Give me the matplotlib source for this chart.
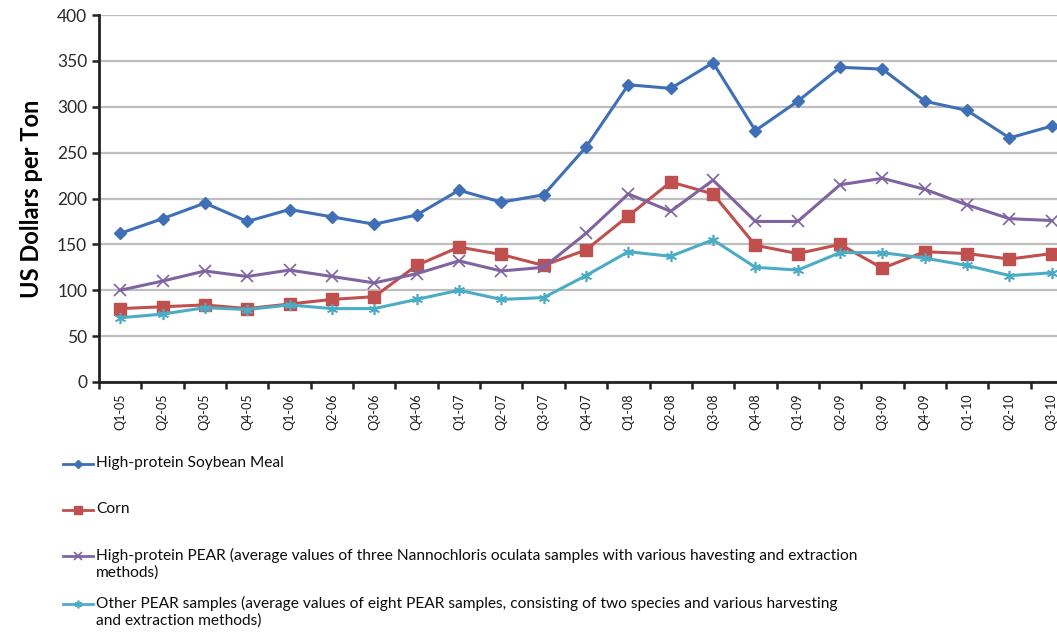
import numpy as np
import matplotlib
matplotlib.use('Agg')
import matplotlib.pyplot as plt
from matplotlib.lines import Line2D

# quarters Q1-05 .. Q3-10
quarters = ['Q1-05', 'Q2-05', 'Q3-05', 'Q4-05', 'Q1-06', 'Q2-06', 'Q3-06', 'Q4-06',
            'Q1-07', 'Q2-07', 'Q3-07', 'Q4-07', 'Q1-08', 'Q2-08', 'Q3-08', 'Q4-08',
            'Q1-09', 'Q2-09', 'Q3-09', 'Q4-09', 'Q1-10', 'Q2-10', 'Q3-10']

soybean = [162, 178, 195, 175, 188, 180, 172, 182, 209, 196, 204, 256,
           324, 320, 348, 274, 306, 343, 341, 306, 296, 266, 279]
corn = [80, 82, 84, 80, 85, 90, 93, 127, 147, 139, 127, 144,
        181, 218, 205, 149, 140, 150, 124, 142, 140, 134, 140]
hp_pear = [100, 110, 121, 115, 122, 115, 108, 118, 132, 121, 125, 162,
           205, 186, 220, 175, 175, 215, 222, 210, 193, 178, 176]
other_pear = [70, 74, 81, 79, 84, 80, 80, 90, 100, 90, 92, 116,
              142, 137, 155, 125, 122, 141, 141, 135, 127, 116, 119]

labels = [
    "High-protein Soybean Meal",
    "Corn",
    "High-protein PEAR (average values of three Nannochloris oculata samples with various havesting and extraction\nmethods)",
    "Other PEAR samples (average values of eight PEAR samples, consisting of two species and various harvesting\nand extraction methods)",
]

plt.rcParams['font.family'] = ['Lato', 'DejaVu Sans']

W, H = 1057, 634
fig = plt.figure(figsize=(W / 100, H / 100), dpi=100)
ax = fig.add_axes([99 / W, 1 - 382 / H, 974 / W, 367 / H])

x = np.arange(len(quarters))
series = [
    (soybean, '#3F6FB6', dict(marker='D', markersize=6.5)),
    (corn, '#C0504D', dict(marker='s', markersize=8.5)),
    (hp_pear, '#8064A2', dict(marker='x', markersize=8, markeredgewidth=1.2)),
    (other_pear, '#4BACC6', dict(marker=(6, 2, 0), markersize=8, markeredgewidth=1.2)),
]
for vals, color, mk in series:
    ax.plot(x, vals, color=color, linewidth=2.2, markerfacecolor=color,
            markeredgecolor=color, **mk)

ax.set_xlim(-0.5, len(quarters) - 0.5)
ax.set_ylim(0, 400)
ax.set_yticks(np.arange(0, 401, 50))
ax.yaxis.grid(True, color='#BEBEBE', linewidth=1.6)
ax.set_axisbelow(True)

ax.set_xticks(x)
ax.set_xticklabels(quarters, rotation=90, fontsize=9, color='#1a1a1a')
ax.set_xticks(np.arange(-0.5, len(quarters), 1), minor=True)
ax.tick_params(axis='x', which='major', length=0, pad=8)
ax.tick_params(axis='x', which='minor', length=5, width=1.8, direction='out', color='#222222')
ax.tick_params(axis='y', length=5, width=1.8, direction='out', labelsize=12.5,
               labelcolor='#2a2a2a', color='#222222')

for s in ['top', 'right']:
    ax.spines[s].set_visible(False)
for s in ['left', 'bottom']:
    ax.spines[s].set_linewidth(2)
    ax.spines[s].set_color('#222222')

ax.set_ylabel('US Dollars per Ton', fontsize=17, fontweight='bold', labelpad=10)

# legend below the plot, one entry per series, handle aligned with first text line
legend_y = [464, 510, 556, 604]
for (vals, color, mk), lab, yy in zip(series, labels, legend_y):
    yf = 1 - yy / H
    mk = dict(mk)
    mk['markersize'] = mk['markersize'] * 0.7
    fig.add_artist(Line2D([63 / W, 78 / W, 93 / W], [yf, yf, yf], transform=fig.transFigure,
                          color=color, linewidth=2, markevery=[1], markerfacecolor=color,
                          markeredgecolor=color, **mk))
    fig.text(96 / W, yf + 8 / H, lab, fontsize=11.15, color='#0d0d0d', va='top', ha='left',
             linespacing=1.2)

fig.savefig('out.png', dpi=100)
